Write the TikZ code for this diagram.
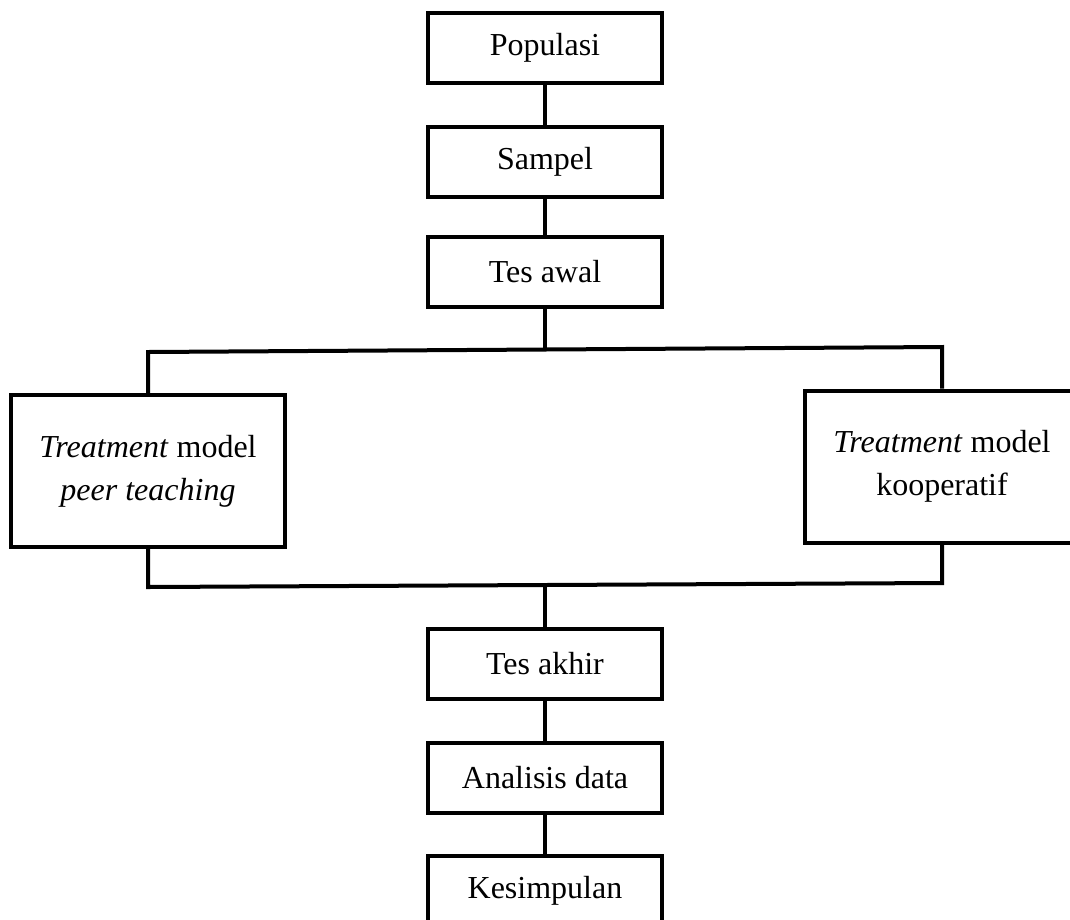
\documentclass[tikz,border=0pt]{standalone}
\usepackage{fontspec}
\setmainfont{Liberation Serif}
\usetikzlibrary{calc}
\begin{document}
\begin{tikzpicture}[x=1pt,y=-1pt,line width=4pt,
    box/.style={draw,line width=4pt,minimum width=234pt,minimum height=70pt,inner sep=0pt,font=\fontsize{32}{43}\selectfont},
    bigbox/.style={box,minimum width=274pt,minimum height=152pt,align=center}]
\useasboundingbox (0,0) rectangle (1070,919);
\clip (0,0) rectangle (1070,919);

% boxes down the middle
\node[box] (pop) at (545,48) {Populasi};
\node[box] (samp) at (545,162) {Sampel};
\node[box] (awal) at (545,272) {Tes awal};
\node[box] (akhir) at (545,663.5) {Tes akhir};
\node[box] (anl) at (545,777.5) {Analisis data};
\node[box] (kes) at (545,891) {Kesimpulan};

% the two treatments
\node[bigbox] (peer) at (148,471) {\textit{Treatment} model\\\textit{peer teaching}};
\node[bigbox] (koop) at (942,466.5) {\textit{Treatment} model\\kooperatif};

\coordinate (tl) at (148,352);
\coordinate (tr) at (942,347);
\coordinate (bl) at (148,587);
\coordinate (br) at (942,583);
\coordinate (tj) at ($(tl)!0.5!(tr)$);
\coordinate (bj) at ($(bl)!0.5!(br)$);

\draw (pop) -- (samp);
\draw (samp) -- (awal);
\draw (awal.south) -- (tj);
\draw (peer.north) -- (tl) -- (tr) -- (koop.north);
\draw (peer.south) -- (bl) -- (br) -- (koop.south);
\draw (bj) -- (akhir.north);
\draw (akhir) -- (anl);
\draw (anl) -- (kes);
\end{tikzpicture}
\end{document}
